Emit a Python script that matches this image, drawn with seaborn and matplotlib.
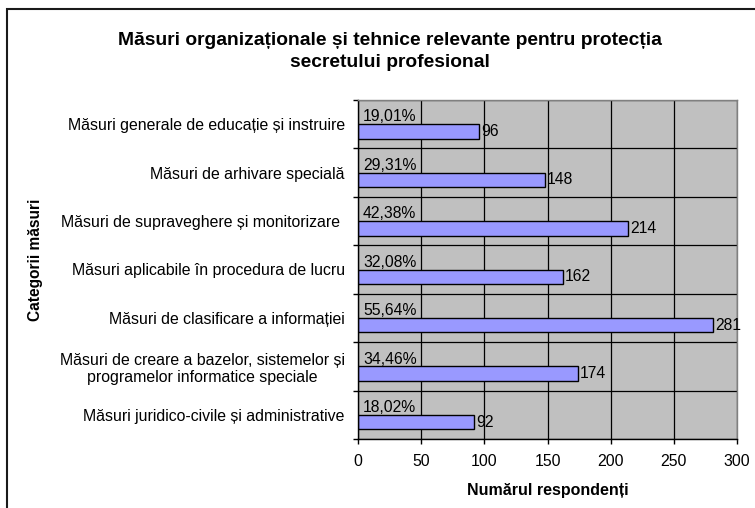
import numpy as np
import pandas as pd
import seaborn as sns
import matplotlib.pyplot as plt
from matplotlib.patches import Rectangle
from matplotlib.ticker import FixedLocator

# Data (top to bottom)
categories = [
    "Măsuri generale de educație și instruire",
    "Măsuri de arhivare specială",
    "Măsuri de supraveghere și monitorizare ",
    "Măsuri aplicabile în procedura de lucru",
    "Măsuri de clasificare a informației",
    "Măsuri de creare a bazelor, sistemelor și\nprogramelor informatice speciale",
    "Măsuri juridico-civile și administrative",
]
respondents = [96, 148, 214, 162, 281, 174, 92]
percents = [19.01, 29.31, 42.38, 32.08, 55.64, 34.46, 18.02]
xticks = [0, 50, 100, 150, 200, 250, 300]

# Two series like the original Excel chart: an invisible "percent" series
# carrying the percentage labels and the real respondents series
df = pd.DataFrame({
    "Categorie": categories * 2,
    "Serie": ["Procent"] * len(categories) + ["Respondenți"] * len(categories),
    "Valoare": [0] * len(categories) + respondents,
})

plt.rcParams['font.family'] = ['Liberation Sans', 'DejaVu Sans']

fig = plt.figure(figsize=(7.55, 5.08), dpi=100)
ax = fig.add_axes([358 / 755, 69 / 508, 379 / 755, 339 / 508])
ax.set_facecolor('#C0C0C0')
ax.set_axisbelow(True)

sns.barplot(data=df, x="Valoare", y="Categorie", hue="Serie", orient="h",
            width=0.6, palette={"Procent": "#9999FF", "Respondenți": "#9999FF"},
            saturation=1, edgecolor="black", linewidth=1, legend=False, ax=ax)

# percent series stays invisible, only its labels show
for p in ax.containers[0]:
    p.set_visible(False)
pct_labels = [f"{v:.2f}%".replace('.', ',') for v in percents]
ax.bar_label(ax.containers[0], labels=pct_labels, padding=3.5, fontsize=11.3)
ax.bar_label(ax.containers[1], labels=[str(v) for v in respondents], padding=1.5, fontsize=11.3)

ax.set_xlim(0, 300)
ax.set_ylim(len(categories) - 0.5, -0.5)
ax.set_xticks(xticks)
ax.xaxis.grid(True, color='black', linewidth=0.9)
ax.yaxis.set_minor_locator(FixedLocator(np.arange(-0.5, len(categories), 1)))
ax.yaxis.grid(True, which='minor', color='black', linewidth=0.9)

ax.tick_params(axis='y', which='major', length=0, pad=9.5, labelsize=11.4)
ax.tick_params(axis='y', which='minor', length=3.6, width=1, color='black')
ax.tick_params(axis='x', length=3.6, width=1, pad=7, labelsize=11.4)
for lbl in ax.get_yticklabels():
    lbl.set_multialignment('center')

for s in ['top', 'right']:
    ax.spines[s].set_color('#808080')
    ax.spines[s].set_linewidth(1)
for s in ['left', 'bottom']:
    ax.spines[s].set_color('black')
    ax.spines[s].set_linewidth(1)

ax.set_xlabel("Numărul respondenți", fontsize=11.5, fontweight='bold')
ax.xaxis.set_label_coords(0.5, -0.153)
ax.xaxis.label.set_va('center')
ax.set_ylabel("Categorii măsuri", fontsize=11.2, fontweight='bold')
ax.yaxis.set_label_coords(-0.852, 0.528)
ax.yaxis.label.set_va('center')

fig.text(390 / 755, 1 - 51.5 / 508,
         "Măsuri organizaționale și tehnice relevante pentru protecția\nsecretului profesional",
         ha='center', va='center', fontsize=13.9, fontweight='bold', linespacing=1.38)

# chart frame (cut off on the right and bottom in the original)
fig.add_artist(Rectangle((7 / 755, -0.1), 1.2, 1 - 9 / 508 + 0.1,
                         transform=fig.transFigure, fill=False,
                         edgecolor='#1a1a1a', linewidth=1.5))

fig.savefig('out.png', dpi=100)
